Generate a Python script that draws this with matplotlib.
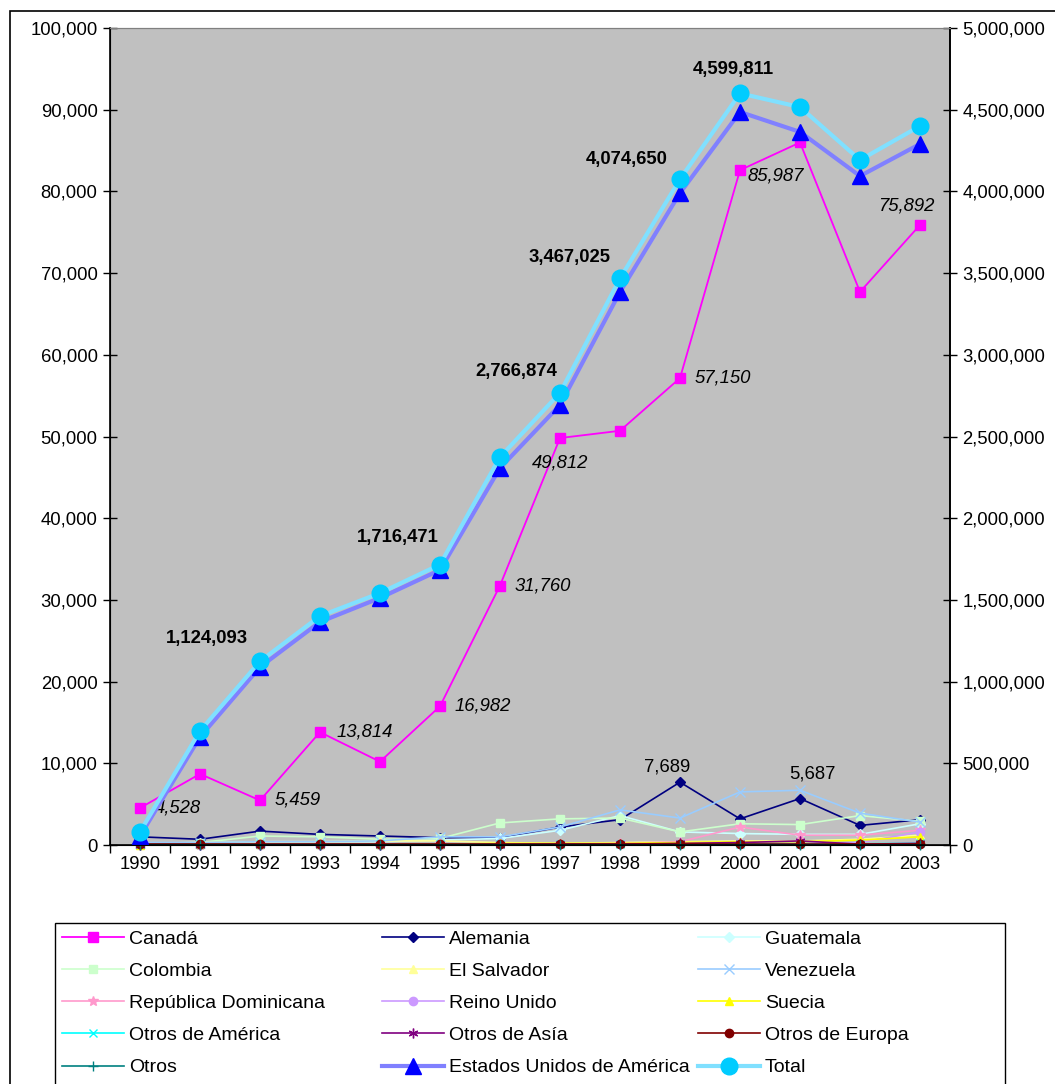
## Visitantes por pais de origen, 1990-2003
import matplotlib.pyplot as plt
from matplotlib.patches import Rectangle
from matplotlib.ticker import FuncFormatter, MultipleLocator
import numpy as np

plt.rcParams['font.family'] = ['Liberation Sans', 'DejaVu Sans']

years = ['1990', '1991', '1992', '1993', '1994', '1995', '1996',
         '1997', '1998', '1999', '2000', '2001', '2002', '2003']

# left axis series
canada = [4528, 8700, 5459, 13814, 10200, 16982, 31760, 49812, 50700, 57150, 82600, 85987, 67700, 75892]
alemania = [1000, 700, 1700, 1300, 1100, 900, 900, 2200, 3100, 7689, 3200, 5687, 2400, 3100]
guatemala = [200, 300, 400, 400, 400, 600, 800, 1800, 3600, 1600, 1400, 1300, 1300, 2600]
colombia = [200, 300, 1100, 1000, 700, 800, 2700, 3200, 3300, 1600, 2600, 2500, 3600, 2900]
el_salvador = [100, 300, 400, 400, 500, 500, 300, 200, 300, 400, 500, 500, 700, 1200]
venezuela = [300, 300, 400, 400, 500, 1000, 1000, 2200, 4300, 3300, 6500, 6700, 3900, 2800]
rep_dom = [50, 50, 100, 100, 100, 100, 100, 100, 200, 400, 2200, 1200, 1200, 1800]
reino_unido = [50, 50, 50, 50, 50, 50, 100, 100, 100, 100, 200, 200, 300, 1600]
suecia = [50, 100, 100, 100, 100, 100, 200, 200, 200, 300, 400, 400, 600, 1000]
otros_america = [100, 100, 100, 100, 100, 100, 100, 100, 100, 100, 150, 150, 150, 200]
otros_asia = [50, 50, 50, 50, 50, 50, 50, 100, 100, 200, 300, 500, 100, 200]
otros_europa = [100, 100, 100, 100, 100, 100, 100, 100, 100, 100, 100, 100, 100, 100]
otros = [50, 50, 50, 50, 50, 50, 50, 50, 50, 50, 50, 50, 50, 50]

# right axis series
eeuu = [55000, 661000, 1089000, 1365000, 1512000, 1683000, 2307000, 2693000,
        3384000, 3990000, 4486000, 4364000, 4094000, 4290000]
total = [80000, 698000, 1124093, 1401000, 1542000, 1716471, 2374000, 2766874,
         3467025, 4074650, 4599811, 4516000, 4192000, 4400000]

# which points carry a data label
canada_lab_idx = [0, 2, 3, 5, 6, 7, 9, 11, 13]
alemania_lab_idx = [9, 11]
total_lab_idx = [2, 5, 7, 8, 9, 10]

# label offsets in pixels (dx, dy, ha)
canada_lab_off = [(15, 0, 'left'), (15, 0, 'left'), (17, 0, 'left'), (15, 0, 'left'),
                  (15, 0, 'left'), (0, -25, 'center'), (15, 0, 'left'),
                  (-24, -34, 'center'), (-14, 19, 'center')]
alemania_lab_off = [(-13, 15), (12, 25)]
total_lab_off = [(-53, 23), (-42, 27), (-44, 21), (-50, 21), (-53, 20), (-7, 24)]

W, H = 1055, 1084
fig = plt.figure(figsize=(W / 100, H / 100), dpi=100)
fig.patch.set_facecolor('white')
# outer chart frame (runs off the right and bottom edges)
fig.add_artist(Rectangle((10 / W, -0.05), 1.1, 1 - 11 / H + 0.05, transform=fig.transFigure,
                         fill=False, edgecolor='black', linewidth=1.2))

ax = fig.add_axes([110 / W, 1 - 845 / H, 840 / W, 817 / H])
ax.set_facecolor('#C0C0C0')
x = np.arange(len(years))
fs = 13.3

small = [
    ('Alemania', alemania, '#000080', 'D', 5, '#000080'),
    ('Guatemala', guatemala, '#CCFFFF', 'D', 5, '#CCFFFF'),
    ('Colombia', colombia, '#CCFFCC', 's', 6, '#CCFFCC'),
    ('El Salvador', el_salvador, '#FFFF99', '^', 6, '#FFFF99'),
    ('Venezuela', venezuela, '#99CCFF', 'x', 7, '#99CCFF'),
    ('República Dominicana', rep_dom, '#FF99CC', '*', 7, '#FF99CC'),
    ('Reino Unido', reino_unido, '#CC99FF', 'o', 6, '#CC99FF'),
    ('Suecia', suecia, '#FFFF00', '^', 6, '#FFFF00'),
    ('Otros de América', otros_america, '#00FFFF', 'x', 6, '#00FFFF'),
    ('Otros de Asía', otros_asia, '#800080', (6, 2, 0), 7, '#800080'),
    ('Otros de Europa', otros_europa, '#800000', 'o', 6, '#800000'),
    ('Otros', otros, '#008080', '+', 7, '#008080'),
]
handles = {}
for name, vals, col, mk, ms, mc in small:
    h, = ax.plot(x, vals, color=col, marker=mk, markersize=ms, markerfacecolor=mc,
                 markeredgecolor=mc, linewidth=1.2, label=name, clip_on=False)
    handles[name] = h
h, = ax.plot(x, canada, color='#FF00FF', marker='s', markersize=7, markerfacecolor='#FF00FF',
             markeredgecolor='#FF00FF', linewidth=1.3, label='Canadá')
handles['Canadá'] = h

ax.set_xlim(-0.5, len(years) - 0.5)
ax.set_ylim(0, 100000)
ax.yaxis.set_major_locator(MultipleLocator(10000))
ax.yaxis.set_major_formatter(FuncFormatter(lambda v, p: '{:,.0f}'.format(v)))
ax.set_xticks(x)
ax.set_xticklabels(years)
ax.set_xticks(np.arange(-0.5, len(years)), minor=True)
ax.tick_params(axis='x', which='major', length=0, labelsize=fs, pad=8)
ax.tick_params(axis='x', which='minor', length=6, direction='out', width=1)
ax.tick_params(axis='y', which='major', length=10, direction='inout', width=1, labelsize=fs, pad=4)
for s in ['left', 'bottom', 'right']:
    ax.spines[s].set_color('black')
    ax.spines[s].set_linewidth(1.2)
ax.spines['top'].set_color('#808080')

ax2 = ax.twinx()
ax2.set_ylim(0, 5000000)
h, = ax2.plot(x, eeuu, color='#8080FF', linewidth=3, marker='^', markersize=11,
              markerfacecolor='#0000FF', markeredgecolor='#0000FF', label='Estados Unidos de América')
handles['Estados Unidos de América'] = h
h, = ax2.plot(x, total, color='#80E0FF', linewidth=3, marker='o', markersize=12,
              markerfacecolor='#00CCFF', markeredgecolor='#00CCFF', label='Total')
handles['Total'] = h
ax2.yaxis.set_major_locator(MultipleLocator(500000))
ax2.yaxis.set_major_formatter(FuncFormatter(lambda v, p: '{:,.0f}'.format(v)))
ax2.tick_params(axis='y', length=10, direction='inout', width=1, labelsize=fs, pad=4)
ax2.spines['right'].set_color('black')
ax2.spines['right'].set_linewidth(1.2)
ax2.spines['top'].set_color('#808080')

# data labels
for i, (dx, dy, ha) in zip(canada_lab_idx, canada_lab_off):
    ax.annotate('{:,}'.format(canada[i]), (x[i], canada[i]), xytext=(dx, dy),
                textcoords='offset pixels', ha=ha, va='center', fontsize=fs, style='italic')
for i, (dx, dy) in zip(alemania_lab_idx, alemania_lab_off):
    ax.annotate('{:,}'.format(alemania[i]), (x[i], alemania[i]), xytext=(dx, dy),
                textcoords='offset pixels', ha='center', va='center', fontsize=fs)
for i, (dx, dy) in zip(total_lab_idx, total_lab_off):
    ax2.annotate('{:,}'.format(total[i]), (x[i], total[i]), xytext=(dx, dy),
                 textcoords='offset pixels', ha='center', va='center', fontsize=fs,
                 fontweight='bold')

# legend: three equal-width columns inside one frame
legend_cols = [
    ['Canadá', 'Colombia', 'República Dominicana', 'Otros de América', 'Otros'],
    ['Alemania', 'El Salvador', 'Reino Unido', 'Otros de Asía', 'Estados Unidos de América'],
    ['Guatemala', 'Venezuela', 'Suecia', 'Otros de Europa', 'Total'],
]
fig.add_artist(Rectangle((55 / W, -0.05), 950 / W, 1 - 923 / H + 0.05, transform=fig.transFigure,
                         fill=True, facecolor='white', edgecolor='black', linewidth=1.0, zorder=1))
col_x = [62, 382, 698]
for cx, names in zip(col_x, legend_cols):
    fig.legend([handles[n] for n in names], names, loc='upper left',
               bbox_to_anchor=(cx / W, 1 - 930 / H), fontsize=14, frameon=False,
               handlelength=3.2, handletextpad=0.25, labelspacing=0.75,
               borderaxespad=0, borderpad=0, markerscale=1.0)

plt.savefig('out.png', dpi=100)
